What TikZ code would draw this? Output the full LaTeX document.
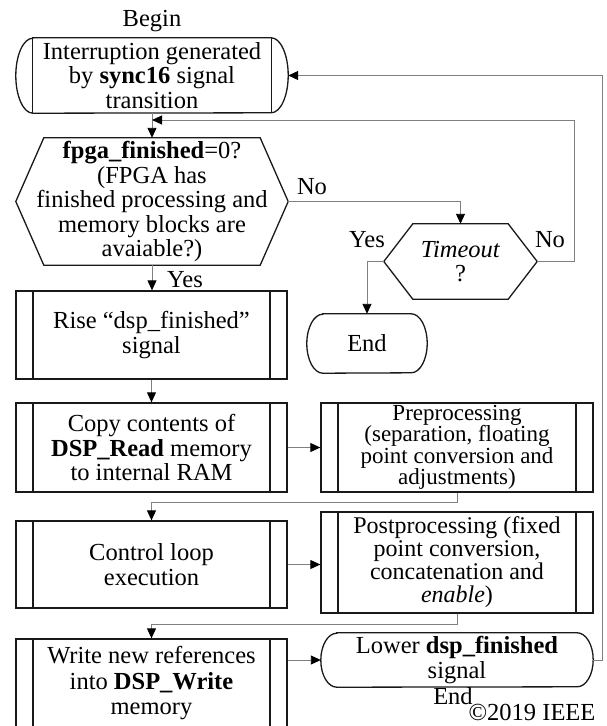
\documentclass[tikz,border=0pt]{standalone}
\usepackage{fontspec}
\setmainfont{Liberation Serif}
\usetikzlibrary{arrows.meta,calc}
\begin{document}
\begin{tikzpicture}[x=1pt,y=-1pt,
  every node/.style={font=\fontsize{24.5}{24.5}\selectfont, inner sep=0pt, align=center},
  shp/.style={draw=black!90, line width=1.3pt},
  conn/.style={draw=black!50, line width=0.9pt},
  arr/.style={conn, -{Triangle[length=10pt,width=9pt,color=black]}},
  procbox/.style={shp, minimum width=271pt,
    path picture={\draw[black!90,line width=1.3pt]
      ([xshift=17pt]path picture bounding box.north west) -- ([xshift=17pt]path picture bounding box.south west)
      ([xshift=-17pt]path picture bounding box.north east) -- ([xshift=-17pt]path picture bounding box.south east);}}
]
\useasboundingbox (0,0) rectangle (606,726);
\clip (0,0) rectangle (606,726);

% Begin terminal
\node (lbegin) at (152,21) {Begin};
\node[minimum width=272pt, minimum height=75pt] (begin) at (152,75.5) {Interruption generated\\by \textbf{sync16} signal\\transition};
\draw[shp] ([xshift=17pt]begin.north west) -- ([xshift=-17pt]begin.north east)
  arc[start angle=90,end angle=-90,x radius=17pt,y radius=37.5pt]
  -- ([xshift=17pt]begin.south west)
  arc[start angle=270,end angle=90,x radius=17pt,y radius=37.5pt] -- cycle;
\draw[shp] ([xshift=17pt]begin.north west) -- ([xshift=17pt]begin.south west)
  ([xshift=-17pt]begin.north east) -- ([xshift=-17pt]begin.south east);

% Decision
\node[minimum width=272pt, minimum height=127pt] (dec) at (152,201.5) {\textbf{fpga\_finished}=0?\\(FPGA has\\finished processing and\\memory blocks are\\avaiable?)};
\draw[shp] (dec.west) -- ([xshift=28pt]dec.north west) -- ([xshift=-28pt]dec.north east) -- (dec.east)
  -- ([xshift=-28pt]dec.south east) -- ([xshift=28pt]dec.south west) -- cycle;

% Timeout
\node[minimum width=153pt, minimum height=75pt] (tmo) at (460.5,261.5) {\textit{Timeout}\\?};
\draw[shp] (tmo.west) -- ([xshift=29pt]tmo.north west) -- ([xshift=-29pt]tmo.north east) -- (tmo.east)
  -- ([xshift=-29pt]tmo.south east) -- ([xshift=29pt]tmo.south west) -- cycle;

% End
\node[minimum width=120pt, minimum height=59pt] (fin) at (367,343.5) {End};
\draw[shp] ([xshift=16pt]fin.north west) -- ([xshift=-16pt]fin.north east)
  arc[start angle=90,end angle=-90,x radius=16pt,y radius=29.5pt]
  -- ([xshift=16pt]fin.south west)
  arc[start angle=270,end angle=90,x radius=16pt,y radius=29.5pt] -- cycle;

% Process boxes
\node[procbox, minimum height=88pt] (rise) at (151.5,335) {Rise “dsp\_finished”\\signal};
\node[procbox, minimum height=89pt] (copy) at (151.5,447.5) {Copy contents of\\\textbf{DSP\_Read} memory\\to internal RAM};
\node[procbox, minimum height=87pt] (ctl) at (151.5,564.5) {Control loop\\execution};
\node[procbox, minimum height=89pt, font=\fontsize{24.5}{25.5}\selectfont] (wri) at (151.5,683.5) {Write new references\\into \textbf{DSP\_Write}\\memory};
\node[procbox, minimum width=272pt, minimum height=89pt, font={\fontsize{23}{21.5}\selectfont\lineskiplimit=-30pt\relax}] (pre) at (457,447.5) {Preprocessing\\(separation, floating\\point conversion and\\adjustments)};
\node[procbox, minimum width=272pt, minimum height=101pt, font={\fontsize{24}{23}\selectfont\lineskiplimit=-30pt\relax}] (post) at (457,562.5) {Postprocessing (fixed\\point conversion,\\concatenation and\\\textit{enable})};

% Lower terminal
\node[minimum width=272pt, minimum height=54pt] (low) at (457,660) {Lower \textbf{dsp\_finished}\\signal};
\draw[shp] ([xshift=16pt]low.north west) -- ([xshift=-16pt]low.north east)
  arc[start angle=90,end angle=-90,x radius=16pt,y radius=27pt]
  -- ([xshift=16pt]low.south west)
  arc[start angle=270,end angle=90,x radius=16pt,y radius=27pt] -- cycle;

% Labels
\node (lno1) at (312,187) {No};
\node (lyes2) at (367,240) {Yes};
\node (lno2) at (550,240) {No};
\node (lyes1) at (185,280) {Yes};
\node (lend) at (453,696) {End};
\node (lcopy) at (532,712) {©2019 IEEE};

% Connectors
\coordinate (j1) at (152,120);
\draw[arr] (begin.south) -- (dec.north);
\draw[arr] (tmo.east) -- ++(37,0) |- (j1);
\draw[arr] (dec.east) -| (tmo.north);
\draw[arr] (tmo.west) -| (fin.north);
\draw[arr] (dec.south) -- (dec.south |- rise.north);
\draw[arr] (rise.south) -- (copy.north);
\draw[arr] (copy.east) -- (copy.east -| pre.west);
\draw[arr] (pre.south) -- ++(0,10) -| (ctl.north);
\draw[arr] (ctl.east) -- (ctl.east -| post.west);
\draw[arr] (post.south) -- ++(0,11) -| (wri.north);
\draw[arr] (low.west -| wri.east) -- (low.west);
\draw[arr] (low.east) -- ++(9,0) |- (begin.east);
\end{tikzpicture}
\end{document}
